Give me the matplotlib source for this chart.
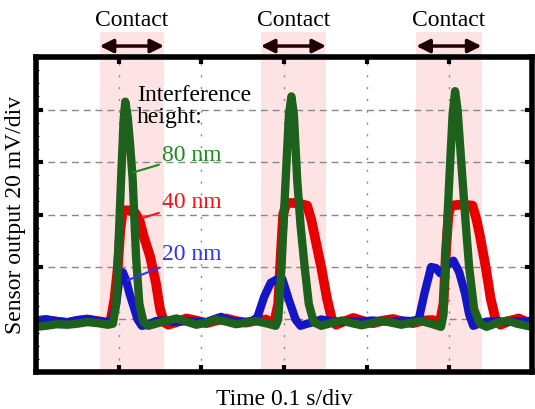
import matplotlib
matplotlib.use("Agg")
import matplotlib.pyplot as plt
import matplotlib.transforms as mtransforms

# time axis in divisions (0.1 s/div), output in divisions (20 mV/div)
green_x = [0.00, 0.12, 0.25, 0.38, 0.50, 0.62, 0.75, 0.87,
           0.93, 0.97, 1.00, 1.03, 1.06, 1.08, 1.11, 1.14, 1.17, 1.21, 1.25, 1.30, 1.36,
           1.45, 1.57, 1.70, 1.82, 1.94, 2.06, 2.18, 2.30, 2.42, 2.54, 2.66, 2.78,
           2.90, 2.93, 2.97, 3.02, 3.06, 3.09, 3.12, 3.16, 3.20, 3.25, 3.30, 3.36,
           3.45, 3.57, 3.70, 3.82, 3.94, 4.06, 4.18, 4.30, 4.42, 4.54, 4.66, 4.78,
           4.90, 4.93, 4.95, 5.00, 5.04, 5.07, 5.10, 5.16, 5.20, 5.24, 5.30, 5.37,
           5.45, 5.57, 5.70, 5.82, 5.94, 6.00]
green_y = [0.86, 0.88, 0.91, 0.90, 0.92, 0.95, 0.93, 0.90,
           0.92, 1.30, 2.50, 3.70, 4.80, 5.15, 4.85, 4.30, 3.66, 2.20, 1.30, 0.95, 0.88,
           0.92, 0.97, 1.02, 0.96, 0.90, 0.94, 1.00, 0.96, 0.91, 0.94, 0.97, 0.93,
           0.88, 1.00, 2.00, 3.66, 4.90, 5.25, 4.90, 3.66, 2.80, 2.00, 1.30, 0.95,
           0.88, 0.93, 0.98, 0.93, 0.89, 0.93, 0.98, 0.94, 0.90, 0.94, 0.97, 0.92,
           0.86, 1.10, 2.00, 3.66, 4.90, 5.35, 5.00, 3.66, 2.80, 2.00, 1.20, 0.92,
           0.86, 0.93, 0.98, 0.92, 0.88, 0.86]

red_x = [0.00, 0.12, 0.25, 0.38, 0.50, 0.62, 0.75, 0.85,
         0.90, 0.95, 0.99, 1.02, 1.05, 1.12, 1.20, 1.25, 1.30, 1.38, 1.45, 1.50, 1.55, 1.60,
         1.70, 1.82, 1.94, 2.06, 2.18, 2.30, 2.42, 2.54, 2.66, 2.78,
         2.88, 2.93, 2.96, 2.99, 3.03, 3.15, 3.28, 3.33, 3.37, 3.45, 3.52, 3.58, 3.63,
         3.72, 3.84, 3.96, 4.08, 4.20, 4.32, 4.44, 4.56, 4.68, 4.80,
         4.88, 4.93, 4.96, 4.99, 5.02, 5.15, 5.28, 5.33, 5.37, 5.44, 5.50, 5.56, 5.62,
         5.72, 5.84, 5.94, 6.00]
red_y = [0.97, 0.99, 0.96, 0.93, 0.97, 1.00, 0.97, 0.94,
         0.95, 1.40, 2.00, 2.70, 3.08, 3.08, 3.03, 2.90, 2.60, 2.20, 1.70, 1.20, 0.95, 0.90,
         0.95, 1.02, 0.98, 0.93, 0.98, 1.02, 0.97, 0.94, 0.98, 1.00,
         0.92, 1.30, 2.20, 3.00, 3.22, 3.22, 3.17, 2.90, 2.60, 2.00, 1.40, 1.00, 0.90,
         0.96, 1.03, 0.97, 0.93, 0.98, 1.01, 0.96, 0.93, 0.98, 0.99,
         0.90, 1.30, 2.30, 3.00, 3.17, 3.19, 3.17, 2.90, 2.60, 2.00, 1.40, 1.00, 0.90,
         0.97, 1.02, 0.95, 0.93]

blue_x = [0.00, 0.12, 0.25, 0.38, 0.50, 0.62, 0.75, 0.85,
          0.92, 0.97, 1.01, 1.05, 1.09, 1.13, 1.18, 1.23, 1.28, 1.35,
          1.45, 1.57, 1.70, 1.82, 1.94, 2.06, 2.18, 2.24, 2.30, 2.42, 2.54,
          2.62, 2.68, 2.76, 2.84, 2.91, 2.98, 3.06, 3.14, 3.20, 3.28, 3.36,
          3.45, 3.57, 3.70, 3.82, 3.94, 4.06, 4.18, 4.30, 4.42, 4.54,
          4.63, 4.70, 4.78, 4.84, 4.89, 4.97, 5.05, 5.12, 5.19, 5.24, 5.29, 5.36,
          5.45, 5.57, 5.70, 5.82, 5.94, 6.00]
blue_y = [0.98, 1.00, 0.97, 0.95, 0.99, 1.01, 0.97, 0.95,
          0.98, 1.30, 1.80, 1.90, 1.75, 1.50, 1.25, 1.00, 0.88, 0.90,
          0.97, 0.98, 0.95, 0.97, 0.96, 0.95, 1.02, 1.05, 1.00, 0.96, 0.95,
          0.97, 1.05, 1.43, 1.70, 1.76, 1.77, 1.37, 1.00, 0.88, 0.92, 0.95,
          1.00, 0.97, 0.95, 0.97, 0.96, 0.98, 0.97, 0.95, 0.98, 0.97,
          1.00, 1.50, 2.00, 1.98, 1.88, 2.03, 2.12, 1.90, 1.50, 1.10, 0.88, 0.92,
          0.96, 0.97, 0.95, 0.97, 0.96, 0.95]

contact_spans = [(0.77, 1.55), (2.72, 3.51), (4.60, 5.39)]

labels = ["80 nm", "40 nm", "20 nm"]
label_colors = ["#1f8a1f", "#ff1010", "#3030ff"]
label_pos = [(1.52, 4.13), (1.52, 3.22), (1.53, 2.23)]
label_tips = [(1.17, 3.80), (1.28, 2.93), (1.11, 1.75)]


def main():
    plt.rcParams["font.family"] = ["Liberation Serif", "DejaVu Serif"]

    fig = plt.figure(figsize=(5.35, 4.09), dpi=100)
    ax = fig.add_axes([0.0673, 0.0905, 0.927, 0.770])
    trans = mtransforms.blended_transform_factory(ax.transData, ax.transAxes)

    for x0, x1 in contact_spans:
        ax.axvspan(x0, x1, ymin=0, ymax=1.079, color="#fde3e3", zorder=0,
                   clip_on=False, lw=0)
        ax.annotate("", xy=(x1, 1.035), xytext=(x0, 1.035),
                    xycoords=trans, textcoords=trans, annotation_clip=False,
                    arrowprops=dict(arrowstyle="<|-|>", color="#200000", lw=2.5,
                                    mutation_scale=20, shrinkA=0, shrinkB=0))
        ax.text((x0 + x1) / 2, 1.117, "Contact", transform=trans,
                ha="center", va="center", fontsize=17)

    for v in range(1, 6):
        ax.axhline(v, color="#888888", lw=1, ls=(0, (5, 3.5)), zorder=1)
        ax.axvline(v, color="#888888", lw=1, ls=(0, (1.5, 7)), zorder=1)

    ax.plot(red_x, red_y, color="#e60000", lw=7, solid_joinstyle="round",
            solid_capstyle="round", zorder=3)
    ax.plot(blue_x, blue_y, color="#1515c8", lw=6, solid_joinstyle="round",
            solid_capstyle="round", zorder=4)
    ax.plot(green_x, green_y, color="#1d611d", lw=6, solid_joinstyle="round",
            solid_capstyle="round", zorder=5)

    ax.text(1.22, 5.47, "Interference\nheight:", ha="left", va="top",
            fontsize=17, linespacing=1.05, zorder=6)
    for i in range(3):
        ax.annotate(labels[i], xy=label_tips[i], xytext=label_pos[i],
                    color=label_colors[i], fontsize=17, ha="left", va="center",
                    zorder=6,
                    arrowprops=dict(arrowstyle="-", color=label_colors[i], lw=1.5,
                                    shrinkA=0, shrinkB=0))

    ax.set_xlim(0, 6)
    ax.set_ylim(0, 6)
    ax.set_xticks([1, 2, 3, 4, 5])
    ax.set_yticks([1, 2, 3, 4, 5])
    ax.set_yticks([i * 0.25 for i in range(25)], minor=True)
    ax.set_xticklabels([])
    ax.set_yticklabels([])
    ax.tick_params(which="major", direction="in", length=5, width=3,
                   top=True, right=True)
    ax.tick_params(which="minor", direction="in", length=2.5, width=0.8,
                   left=True, right=False)
    for s in ax.spines.values():
        s.set_linewidth(4)
        s.set_zorder(7)

    ax.set_xlabel("Time 0.1 s/div", fontsize=17, labelpad=9)
    ax.set_ylabel("Sensor output 20 mV/div", fontsize=17, labelpad=4)

    fig.savefig("out.png", dpi=100)


if __name__ == "__main__":
    main()
